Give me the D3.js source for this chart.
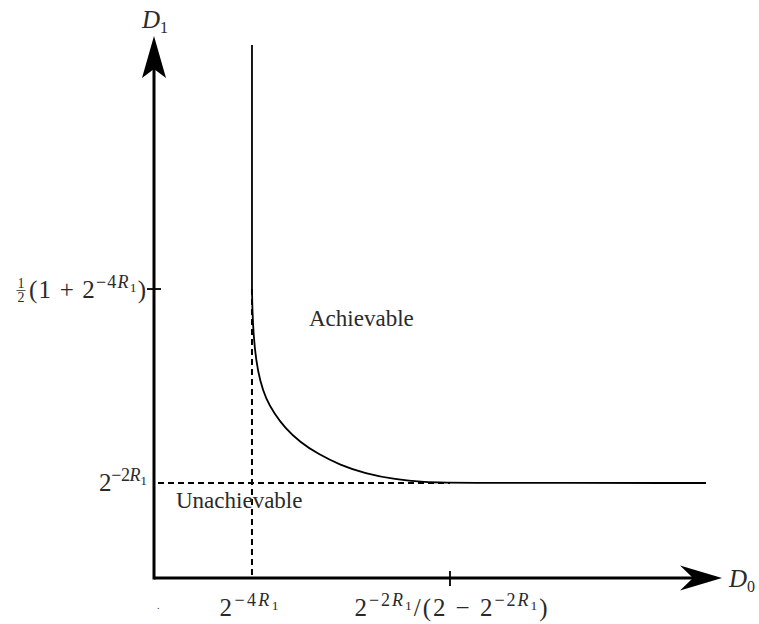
<!DOCTYPE html>
<html>
<head>
<meta charset="utf-8">
<script src="https://cdn.jsdelivr.net/npm/d3@7"></script>
<style>
  html, body { margin: 0; padding: 0; background: #fff; }
  svg { display: block; }
  text { font-family: "Liberation Serif", "DejaVu Serif", serif; fill: #2a2a2a; }
</style>
</head>
<body>
<div id="chart"></div>
<script>
// Distortion region boundary (normalised D0, D1 units)
const boundaryD0 = [0.1725, 0.1732, 0.1752, 0.1796, 0.1866, 0.1972, 0.2113, 0.2306, 0.2570, 0.2887, 0.3275, 0.3715, 0.4243, 0.4771, 0.5211, 0.9718];
const boundaryD1 = [0.5332, 0.4945, 0.4483, 0.4022, 0.3635, 0.3303, 0.3044, 0.2768, 0.2509, 0.2288, 0.2085, 0.1928, 0.1817, 0.1768, 0.1753, 0.1753];

// Vertical part of the boundary at D0 = 2^{-4R1}
const verticalD0 = 0.1725;
const verticalTopD1 = 0.9834;

// Tick values on each axis
const xTickValues = [0.1725, 0.5211];
const yTickValues = [0.5332, 0.1753];

// Region labels
const regionNames = ["Achievable", "Unachievable"];

const W = 759, H = 624;
const svg = d3.select("#chart").append("svg").attr("width", W).attr("height", H);

const x = d3.scaleLinear().domain([0, 1]).range([154, 722]);
const y = d3.scaleLinear().domain([0, 1]).range([578, 36]);

// helper to write a small math expression with super/subscripts
function mathText(g, px, py, parts, anchor, width) {
  const t = g.append("text").attr("x", px).attr("y", py).attr("text-anchor", anchor || "start");
  const sizes = { base: 25, sup: 18, supsub: 13.5, sub: 16 };
  const offs = { base: 0, sup: -10, supsub: -6, sub: 5 };
  let cur = 0;
  parts.forEach(p => {
    const lvl = p.l || "base";
    const ts = t.append("tspan")
      .attr("font-size", sizes[lvl])
      .attr("dy", offs[lvl] - cur)
      .text(p.t);
    if (p.it) ts.attr("font-style", "italic");
    cur = offs[lvl];
  });
  if (width) t.attr("textLength", width).attr("lengthAdjust", "spacing");
  return t;
}

const g = svg.append("g");

// Dashed guides
g.append("line")
  .attr("x1", x(verticalD0)).attr("x2", x(verticalD0))
  .attr("y1", y(yTickValues[0])).attr("y2", y(0))
  .attr("stroke", "#000").attr("stroke-width", 2).attr("stroke-dasharray", "6,4");
g.append("line")
  .attr("x1", x(0) + 4).attr("x2", x(xTickValues[1]))
  .attr("y1", y(yTickValues[1])).attr("y2", y(yTickValues[1]))
  .attr("stroke", "#000").attr("stroke-width", 2).attr("stroke-dasharray", "6,4");

// Boundary: vertical segment and curve
g.append("line")
  .attr("x1", x(verticalD0)).attr("x2", x(verticalD0))
  .attr("y1", y(verticalTopD1)).attr("y2", y(boundaryD1[0]))
  .attr("stroke", "#000").attr("stroke-width", 1.8);

const pts = boundaryD0.map((d, i) => [d, boundaryD1[i]]);
const line = d3.line().x(d => x(d[0])).y(d => y(d[1])).curve(d3.curveBasis);
g.append("path").attr("d", line(pts))
  .attr("fill", "none").attr("stroke", "#000").attr("stroke-width", 1.8);

// Axes
g.append("line").attr("x1", x(0)).attr("x2", x(1) - 20).attr("y1", y(0)).attr("y2", y(0))
  .attr("stroke", "#000").attr("stroke-width", 3);
g.append("line").attr("x1", x(0)).attr("x2", x(0)).attr("y1", y(0) + 1.5).attr("y2", y(1) + 20)
  .attr("stroke", "#000").attr("stroke-width", 3);

// Arrow heads
const ax = x(1), ay = y(0);
g.append("path")
  .attr("d", `M${ax},${ay} L${ax - 42},${ay - 12.5} L${ax - 29},${ay} L${ax - 42},${ay + 12.5} Z`)
  .attr("fill", "#000");
const bx = x(0), by = y(1);
g.append("path")
  .attr("d", `M${bx},${by} L${bx + 12},${by + 42} L${bx},${by + 33} L${bx - 12},${by + 42} Z`)
  .attr("fill", "#000");

// Ticks
g.append("line").attr("x1", x(xTickValues[1])).attr("x2", x(xTickValues[1]))
  .attr("y1", y(0) - 7).attr("y2", y(0) + 8).attr("stroke", "#000").attr("stroke-width", 1.8);
g.append("line").attr("x1", x(0) - 7).attr("x2", x(0) + 7)
  .attr("y1", y(yTickValues[0])).attr("y2", y(yTickValues[0])).attr("stroke", "#000").attr("stroke-width", 1.8);

// Axis titles
mathText(g, 142, 28, [{ t: "D", it: 1 }, { t: "1", l: "sub" }]);
mathText(g, 729, 587, [{ t: "D", it: 1 }, { t: "0", l: "sub" }]);

// x tick labels
mathText(g, x(xTickValues[0]) - 3, 616, [
  { t: "2" }, { t: "−4", l: "sup" }, { t: "R", l: "sup", it: 1 }, { t: "1", l: "supsub" }
], "middle", 59);
mathText(g, x(xTickValues[1]) + 1, 616, [
  { t: "2" }, { t: "−2", l: "sup" }, { t: "R", l: "sup", it: 1 }, { t: "1", l: "supsub" },
  { t: "/(2 − 2" }, { t: "−2", l: "sup" }, { t: "R", l: "sup", it: 1 }, { t: "1", l: "supsub" }, { t: ")" }
], "middle", 193);
g.append("text").attr("x", 157).attr("y", 609).attr("font-size", 10).text(".");

// y tick labels
const yl = mathText(g, 146, y(yTickValues[0]) + 9, [
  { t: "(1 + 2" }, { t: "−4", l: "sup" }, { t: "R", l: "sup", it: 1 }, { t: "1", l: "supsub" }, { t: ")" }
], "end", 117);
const bb = yl.node().getBBox();
const fx = bb.x - 8;
g.append("text").attr("x", fx).attr("y", y(yTickValues[0]) - 1).attr("font-size", 14)
  .attr("text-anchor", "middle").text("1");
g.append("line").attr("x1", fx - 4.5).attr("x2", fx + 4.5)
  .attr("y1", y(yTickValues[0]) + 1.5).attr("y2", y(yTickValues[0]) + 1.5)
  .attr("stroke", "#2a2a2a").attr("stroke-width", 0.8);
g.append("text").attr("x", fx).attr("y", y(yTickValues[0]) + 13).attr("font-size", 14)
  .attr("text-anchor", "middle").text("2");

mathText(g, 147, y(yTickValues[1]) + 8, [
  { t: "2" }, { t: "−2", l: "sup" }, { t: "R", l: "sup", it: 1 }, { t: "1", l: "supsub" }
], "end", 48);

// Region labels
g.append("text").attr("x", 309).attr("y", 326).attr("font-size", 23).text(regionNames[0]);
g.append("text").attr("x", 176).attr("y", 508).attr("font-size", 23).text(regionNames[1]);
</script>
</body>
</html>
